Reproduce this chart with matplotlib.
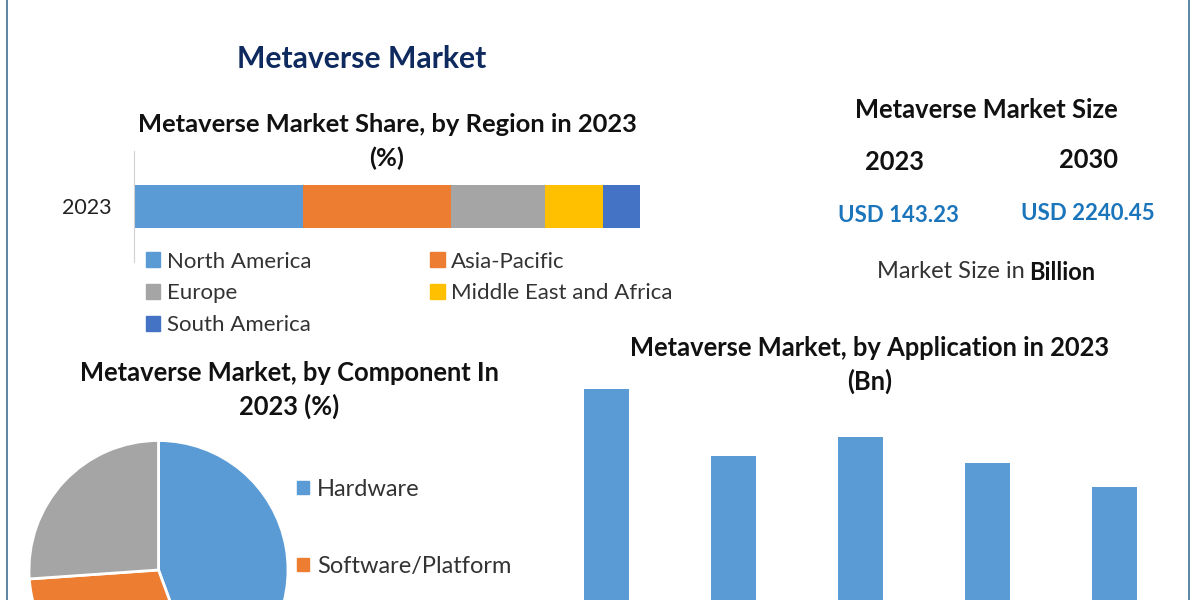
#!/usr/bin/env python3
"""Metaverse market infographic: region share bar, component pie, application bars."""

import matplotlib
matplotlib.use("Agg")
import matplotlib.pyplot as plt
from matplotlib.patches import Patch

W, H = 1200, 600

REGIONS = ["North America", "Asia-Pacific", "Europe", "Middle East and Africa", "South America"]
REGION_SHARE = [33.4, 29.2, 18.6, 11.5, 7.3]
REGION_COLORS = ["#5B9BD5", "#ED7D31", "#A5A5A5", "#FFC000", "#4472C4"]

COMPONENTS = ["Hardware", "Software/Platform", ""]
COMPONENT_SHARE = [44.4, 29.5, 26.1]
COMPONENT_COLORS = ["#5B9BD5", "#ED7D31", "#A5A5A5"]

APP_POSITIONS = [0, 1, 2, 3, 4]
APP_VALUES = [25.1, 18.4, 20.3, 17.7, 15.3]

plt.rcParams["font.family"] = ["Lato", "DejaVu Sans"]


def px_axes(fig, left, top, right, bottom):
    return fig.add_axes([left / W, 1 - bottom / H, (right - left) / W, (bottom - top) / H])


def px_text(fig, x, y, s, **kw):
    kw.setdefault("ha", "center")
    kw.setdefault("va", "center")
    return fig.text(x / W, 1 - (y + 2) / H, s, **kw)


fig = plt.figure(figsize=(12, 6), dpi=100, facecolor="white")

# frame lines left and right
for x in (7, 1189):
    fig.add_artist(plt.Line2D([x / W, x / W], [0, 1], color="#3f7196", lw=1.2))

px_text(fig, 362, 57, "Metaverse Market", fontsize=21.7, fontweight="bold", color="#0f2a5f")

# stacked bar by region
ax = px_axes(fig, 134, 151, 640, 262)
left = 0
for name, val, col in zip(REGIONS, REGION_SHARE, REGION_COLORS):
    ax.barh([0], [val], left=left, height=0.39, color=col, label=name)
    left += val
ax.set_xlim(0, 100)
ax.set_ylim(-0.5, 0.5)
ax.set_yticks([0.0], ["2023"], fontsize=15.5, color="#222222")
ax.set_xticks([])
ax.tick_params(axis="y", length=0, pad=16)
for side in ("top", "right", "bottom"):
    ax.spines[side].set_visible(False)
ax.spines["left"].set_color("#d0d0d0")

px_text(fig, 387, 123, "Metaverse Market Share, by Region in 2023", fontsize=18.35, fontweight="bold", color="#111111")
px_text(fig, 387, 156, "(%)", fontsize=18.35, fontweight="bold", color="#111111")

order = [0, 2, 4, 1, 3]
handles = [Patch(color=REGION_COLORS[i], label=REGIONS[i]) for i in order]
fig.legend(handles=handles, ncols=2, loc="upper left", bbox_to_anchor=(139 / W, 1 - 245 / H),
           frameon=False, fontsize=16, labelcolor="#333333", handlelength=0.65, handleheight=0.65,
           handletextpad=0.3, columnspacing=5.35, labelspacing=0.53, borderaxespad=0, borderpad=0.3)

# market size block
px_text(fig, 986, 108, "Metaverse Market Size", fontsize=18.4, fontweight="bold", color="#111111")
px_text(fig, 894, 160, "2023", fontsize=18.4, fontweight="bold", color="#111111")
px_text(fig, 1089, 158, "2030", fontsize=18.4, fontweight="bold", color="#111111")
px_text(fig, 898, 214, "USD 143.23", fontsize=16, fontweight="bold", color="#1b75bb")
px_text(fig, 1088, 211, "USD 2240.45", fontsize=16, fontweight="bold", color="#1b75bb")
px_text(fig, 1025, 270, "Market Size in", ha="right", fontsize=17, color="#333333")
px_text(fig, 1029, 270, "Billion", ha="left", fontsize=17, fontweight="bold", color="#111111")

# component pie, cut off by the bottom edge
ax = px_axes(fig, 29, 440.5, 288, 699.5)
ax.pie(COMPONENT_SHARE, colors=COMPONENT_COLORS, startangle=90, counterclock=False,
       wedgeprops={"edgecolor": "white", "linewidth": 2})
ax.set_xlim(-1, 1)
ax.set_ylim(-1, 1)
for w in ax.patches:
    w.set_clip_on(False)

px_text(fig, 289, 371, "Metaverse Market, by Component In", fontsize=18.4, fontweight="bold", color="#111111")
px_text(fig, 289, 404, "2023 (%)", fontsize=18.4, fontweight="bold", color="#111111")

handles = [Patch(color=COMPONENT_COLORS[i], label=COMPONENTS[i]) for i in (0, 1)]
fig.legend(handles=handles, loc="upper left", bbox_to_anchor=(290 / W, 1 - 472 / H), frameon=False,
           fontsize=17, labelcolor="#333333", handlelength=0.5, handleheight=0.5,
           handletextpad=0.35, labelspacing=2.37, borderaxespad=0, borderpad=0.3)

# application bars, baseline falls below the crop
ax = px_axes(fig, 565, 380, 1200, 600)
ax.bar(APP_POSITIONS, APP_VALUES, width=0.355, color="#5B9BD5")
ax.set_xlim(-0.325, 4.675)
ax.set_ylim(4, 26)
ax.axis("off")

px_text(fig, 870, 346, "Metaverse Market, by Application in 2023", fontsize=18.4, fontweight="bold", color="#111111")
px_text(fig, 870, 379, "(Bn)", fontsize=18.4, fontweight="bold", color="#111111")

fig.savefig("out.png", dpi=100)
